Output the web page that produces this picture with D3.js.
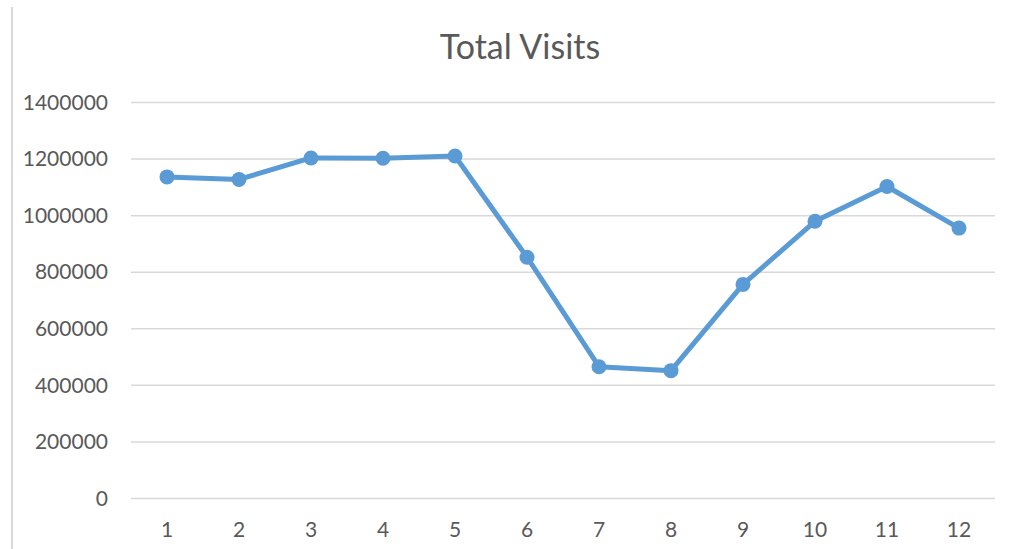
<!DOCTYPE html>
<html>
<head>
<meta charset="utf-8">
<script src="https://cdn.jsdelivr.net/npm/d3@7"></script>
<style>
  body { margin: 0; background: #fff; }
  svg { display: block; font-family: Lato, "Open Sans", sans-serif; }
</style>
</head>
<body>
<div id="chart"></div>
<script>
// data
const months = ["1", "2", "3", "4", "5", "6", "7", "8", "9", "10", "11", "12"];
const visits = [1137000, 1128000, 1204000, 1203000, 1211000, 853000, 466000, 452000, 757000, 980000, 1103000, 956000];
const yTicks = [0, 200000, 400000, 600000, 800000, 1000000, 1200000, 1400000];

const W = 1014, H = 549;
const margin = {top: 102.5, right: 19, bottom: 50.5, left: 131};

const svg = d3.select("#chart").append("svg")
  .attr("width", W)
  .attr("height", H);

// chart border on the left
svg.append("line")
  .attr("x1", 12).attr("x2", 12)
  .attr("y1", 7).attr("y2", H)
  .attr("stroke", "#d9d9d9")
  .attr("stroke-width", 2);

const x = d3.scaleBand()
  .domain(months)
  .range([margin.left, W - margin.right]);

const y = d3.scaleLinear()
  .domain([0, 1400000])
  .range([H - margin.bottom, margin.top]);

// gridlines
svg.append("g")
  .selectAll("line")
  .data(yTicks)
  .join("line")
    .attr("x1", margin.left)
    .attr("x2", W - margin.right)
    .attr("y1", d => y(d))
    .attr("y2", d => y(d))
    .attr("stroke", "#d9d9d9")
    .attr("stroke-width", 1.5);

// y axis labels
const yAxis = svg.append("g")
  .attr("transform", `translate(${margin.left - 23},0)`)
  .call(d3.axisLeft(y).tickValues(yTicks).tickSize(0).tickPadding(0).tickFormat(d3.format("d")));
yAxis.select(".domain").remove();
yAxis.selectAll("text")
  .attr("font-size", 21)
  .attr("font-family", "Lato, sans-serif")
  .attr("fill", "#595959");

// x axis labels
const xAxis = svg.append("g")
  .attr("transform", `translate(0,${H - margin.bottom})`)
  .call(d3.axisBottom(x).tickSize(0).tickPadding(23.5));
xAxis.select(".domain").remove();
xAxis.selectAll("text")
  .attr("font-size", 21)
  .attr("font-family", "Lato, sans-serif")
  .attr("fill", "#595959");

const cx = d => x(d) + x.bandwidth() / 2;

// the line
svg.append("path")
  .datum(visits)
  .attr("fill", "none")
  .attr("stroke", "#5b9bd5")
  .attr("stroke-width", 5)
  .attr("stroke-linejoin", "round")
  .attr("d", d3.line()
    .x((d, i) => cx(months[i]))
    .y(d => y(d)));

// markers
svg.append("g")
  .selectAll("circle")
  .data(visits)
  .join("circle")
    .attr("cx", (d, i) => cx(months[i]))
    .attr("cy", d => y(d))
    .attr("r", 7.5)
    .attr("fill", "#5b9bd5");

// title
svg.append("text")
  .attr("x", 520)
  .attr("y", 58.5)
  .attr("text-anchor", "middle")
  .attr("font-size", 34)
  .attr("fill", "#595959")
  .text("Total Visits");
</script>
</body>
</html>
